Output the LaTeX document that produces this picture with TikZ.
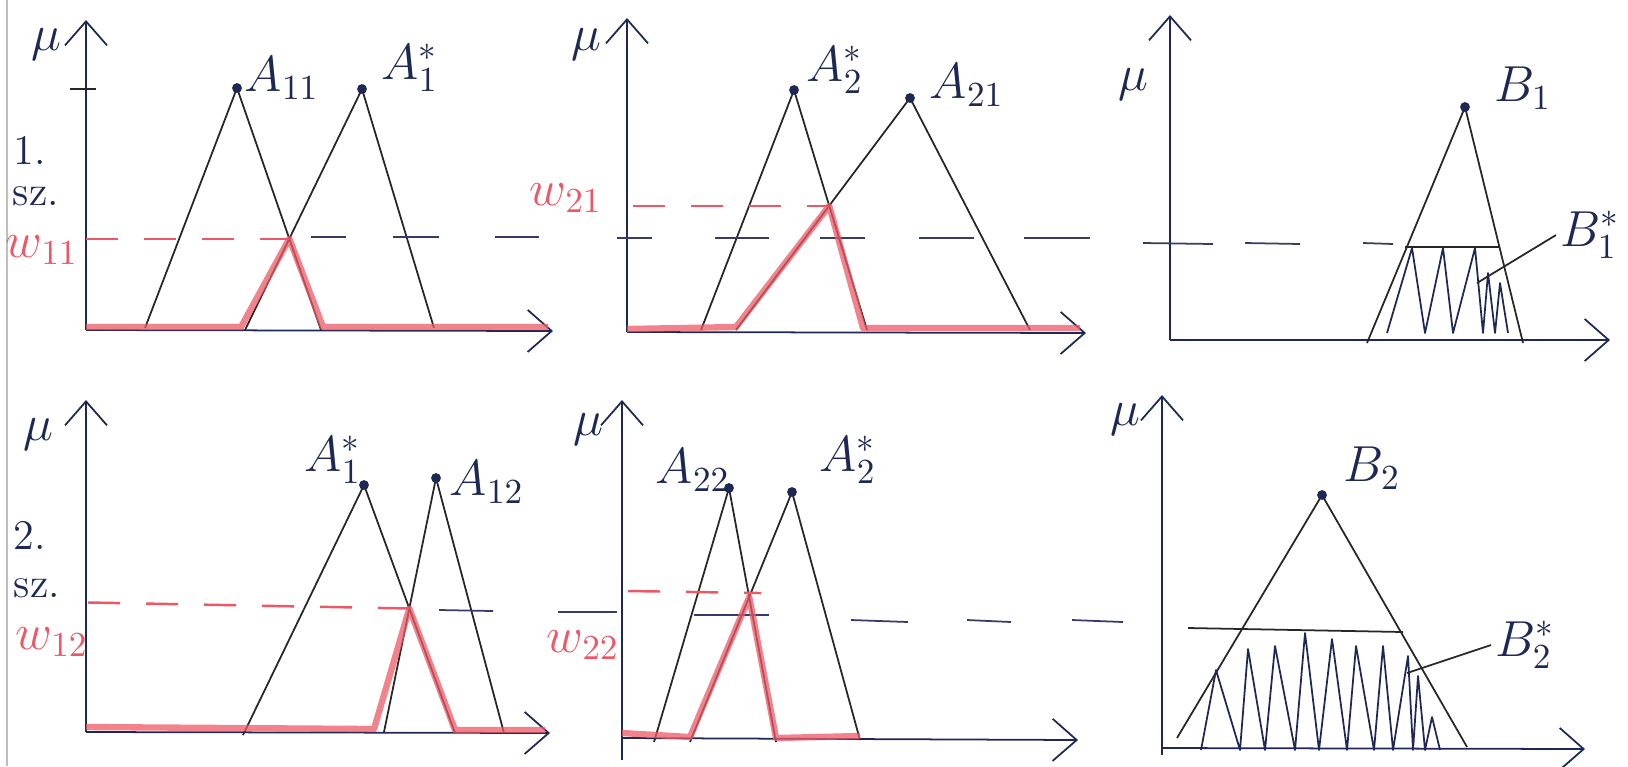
\documentclass[tikz,border=0pt]{standalone}
\usepackage{amsmath,amssymb}
\usepackage{xcolor}
\usepackage{tikz}
\usetikzlibrary{arrows.meta, calc}
\definecolor{inkblue}{RGB}{30, 40, 85}
\definecolor{penred}{RGB}{238, 88, 102}

\begin{document}
\begin{tikzpicture}[
    x=0.01cm, y=-0.01cm,
    axis/.style={->, >={Straight Barb[length=2.4mm, width=4.2mm]}, line width=0.5pt, draw=inkblue},
    memb/.style={draw=black!85, line width=0.5pt, line join=round},
    cutdash/.style={draw=inkblue!90, line width=0.5pt},
    wlevel/.style={draw=penred, line width=0.7pt, dash pattern=on 3.2mm off 2.6mm},
    minres/.style={draw=penred, line width=1.8pt, opacity=0.75, line join=round},
    hatch/.style={draw=inkblue, line width=0.5pt, line join=round},
    setname/.style={text=inkblue, font=\Large, inner sep=1pt},
    axname/.style={text=inkblue, font=\Large, inner sep=1pt},
    rulename/.style={text=inkblue, font=\large, inner sep=0pt},
    wname/.style={text=penred, font=\Large, inner sep=0pt}
]
    \useasboundingbox (0,0) rectangle (1628,766);
    \draw[black!25, line width=0.6pt] (7,0) -- (7,766);

    % 1. sz. -- A11, A1*
    \coordinate (o1) at (86,330);
    \draw[axis] (o1) -- (86,20);
    \draw[axis] (o1) -- (553,331);
    \draw[memb] (70,89) -- (96,89);
    \coordinate (a11l) at (145,328);
    \coordinate (a11t) at (237,88);
    \coordinate (a11r) at (321,330);
    \coordinate (a1sl) at (245,330);
    \coordinate (a1st) at (362,89);
    \coordinate (a1sr) at (434,328);
    \draw[memb] (a11l) -- (a11t) -- (a11r);
    \draw[memb] (a1sl) -- (a1st) -- (a1sr);
    \coordinate (x1) at (intersection of a11t--a11r and a1sl--a1st);
    \draw[wlevel] (x1 -| o1) -- (x1);
    \foreach \a/\b in {311/346, 393/439, 495/539}
        \draw[cutdash] (\a,237) -- (\b,237);
    \draw[minres] ($(o1)+(0,-3)$) -- ($(a1sl)+(-4,-3)$) -- (x1) -- ($(a11r)+(2,-3)$) -- (548,327);
    \fill[inkblue] (a11t) circle (1.4pt) (a1st) circle (1.4pt);
    \node[axname] (mu1) at (46,45) {$\mu$};
    \node[rulename] (r1) at (30,150) {1.};
    \node[rulename] (sz1) at (36,196) {sz.};
    \node[wname] (w11) at (42,250) {$w_{11}$};
    \node[setname] (lA11) at (282,78) {$A_{11}$};
    \node[setname] (lA1s) at (410,68) {$A_1^{*}$};

    % 1. sz. -- A2*, A21
    \coordinate (o2) at (627,332);
    \draw[axis] (o2) -- (627,18);
    \draw[axis] (o2) -- (1086,333);
    \coordinate (a2sl) at (701,330);
    \coordinate (a2st) at (794,90);
    \coordinate (a2sr) at (867,330);
    \coordinate (a21l) at (736,330);
    \coordinate (a21t) at (910,98);
    \coordinate (a21r) at (1030,330);
    \draw[memb] (a2sl) -- (a2st) -- (a2sr);
    \draw[memb] (a21l) -- (a21t) -- (a21r);
    \coordinate (x2) at (intersection of a2st--a2sr and a21l--a21t);
    \draw[wlevel] ($(x2 -| o2)+(6,0)$) -- (x2);
    \foreach \a/\b in {617/652, 715/769, 820/865, 919/974, 1024/1090}
        \draw[cutdash] (\a,238) -- (\b,238);
    \draw[minres] ($(o2)+(0,-3)$) -- ($(a21l)+(0,-3)$) -- (x2) -- ($(a2sr)+(-4,-2)$) -- (1080,328);
    \fill[inkblue] (a2st) circle (1.4pt) (a21t) circle (1.4pt);
    \node[axname] (mu2) at (586,45) {$\mu$};
    \node[wname] (w21) at (566,198) {$w_{21}$};
    \node[setname] (lA2s) at (835,70) {$A_2^{*}$};
    \node[setname] (lA21) at (967,85) {$A_{21}$};

    % 1. sz. -- B1
    \coordinate (o3) at (1170,340);
    \draw[axis] (o3) -- (1170,15);
    \draw[axis] (o3) -- (1610,340);
    \foreach \a/\b in {1143/1213, 1245/1300, 1363/1393}
        \draw[cutdash] (\a,243) -- (\b,244);
    \coordinate (b1l) at (1367,343);
    \coordinate (b1t) at (1465,107);
    \coordinate (b1r) at (1523,343);
    \draw[memb] (b1l) -- (b1t) -- (b1r);
    \draw[memb] (1405,247) -- (1500,247);
    \draw[hatch] (1387,333) -- (1412,248) -- (1425,333) -- (1443,248) -- (1453,333)
        -- (1475,248) -- (1483,333) -- (1488,273) -- (1495,333) -- (1500,283) -- (1508,333);
    \fill[inkblue] (b1t) circle (1.4pt);
    \coordinate (h1) at (1477,283);
    \node[axname] (mu3) at (1133,85) {$\mu$};
    \node[setname] (lB1) at (1523,88) {$B_1$};
    \node[setname] (lB1s) at (1590,235) {$B_1^{*}$};
    \draw[memb] (h1) -- (lB1s.west);

    % 2. sz. -- A1*, A12
    \coordinate (o4) at (86,732);
    \draw[axis] (o4) -- (86,400);
    \draw[axis] (o4) -- (550,733);
    \coordinate (b1sl) at (243,735);
    \coordinate (b1st) at (364,485);
    \coordinate (b1sr) at (455,733);
    \coordinate (a12l) at (384,732);
    \coordinate (a12t) at (436,478);
    \coordinate (a12r) at (504,733);
    \draw[memb] (b1sl) -- (b1st) -- (b1sr);
    \draw[memb] (a12l) -- (a12t) -- (a12r);
    \coordinate (x4) at (intersection of b1st--b1sr and a12l--a12t);
    \draw[wlevel] ($(x4 -| o4)+(2,-6)$) -- (x4);
    \draw[cutdash] (439,610) -- (493,611);
    \draw[minres] ($(o4)+(0,-5)$) -- ($(a12l)+(-10,-3)$) -- (x4) -- ($(b1sr)+(0,-3)$) -- (545,730);
    \fill[inkblue] (b1st) circle (1.4pt) (a12t) circle (1.4pt);
    \node[axname] (mu4) at (38,435) {$\mu$};
    \node[rulename] (r2) at (30,535) {2.};
    \node[rulename] (sz2) at (37,588) {sz.};
    \node[wname] (w12) at (52,642) {$w_{12}$};
    \node[setname] (lA1s2) at (333,460) {$A_1^{*}$};
    \node[setname] (lA12) at (487,482) {$A_{12}$};

    % 2. sz. -- A22, A2*
    \coordinate (o5) at (622,738);
    \draw[axis] (622,760) -- (622,400);
    \draw[axis] (o5) -- (1078,740);
    \coordinate (a22l) at (654,742);
    \coordinate (a22t) at (729,488);
    \coordinate (a22r) at (776,742);
    \coordinate (b2sl) at (690,742);
    \coordinate (b2st) at (792,492);
    \coordinate (b2sr) at (860,740);
    \draw[memb] (a22l) -- (a22t) -- (a22r);
    \draw[memb] (b2sl) -- (b2st) -- (b2sr);
    \coordinate (x5) at (intersection of a22t--a22r and b2sl--b2st);
    \draw[wlevel] ($(x5 -| o5)+(6,-6)$) -- ($(x5)+(12,-4)$);
    \draw[cutdash] (558,612) -- (617,612);
    \draw[cutdash] (694,615) -- (769,615);
    \foreach \a/\b in {851/908, 967/1011, 1072/1123}
        \draw[cutdash] (\a,620) -- (\b,622);
    \draw[minres] ($(o5)+(0,-5)$) -- ($(b2sl)+(0,-5)$) -- (x5) -- ($(a22r)+(0,-4)$) -- ($(b2sr)+(0,-4)$);
    \fill[inkblue] (a22t) circle (1.4pt) (b2st) circle (1.4pt);
    \node[axname] (mu5) at (588,430) {$\mu$};
    \node[setname] (lA22) at (693,470) {$A_{22}$};
    \node[setname] (lA2s2) at (848,460) {$A_2^{*}$};
    \node[wname] (w22) at (583,645) {$w_{22}$};

    % 2. sz. -- B2
    \coordinate (o6) at (1162,748);
    \draw[axis] (1162,755) -- (1162,395);
    \draw[axis] (o6) -- (1585,749);
    \coordinate (b2l) at (1177,738);
    \coordinate (b2t) at (1322,495);
    \coordinate (b2r) at (1467,747);
    \draw[memb] (b2l) -- (b2t) -- (b2r);
    \draw[memb] (1188,628) -- (1403,632);
    \draw[hatch] (1201,750) -- (1216,670) -- (1240,750) -- (1248,649) -- (1265,750)
        -- (1275,646) -- (1295,750) -- (1305,633) -- (1319,750) -- (1332,639)
        -- (1347,750) -- (1356,646) -- (1374,750) -- (1383,646) -- (1393,750)
        -- (1408,656) -- (1413,750) -- (1418,676) -- (1425,750) -- (1432,717) -- (1440,750);
    \fill[inkblue] (b2t) circle (1.4pt);
    \coordinate (h2) at (1407,673);
    \node[axname] (mu6) at (1125,420) {$\mu$};
    \node[setname] (lB2) at (1372,468) {$B_2$};
    \node[setname] (lB2s) at (1525,645) {$B_2^{*}$};
    \draw[memb] (h2) -- (lB2s.west);
\end{tikzpicture}
\end{document}
